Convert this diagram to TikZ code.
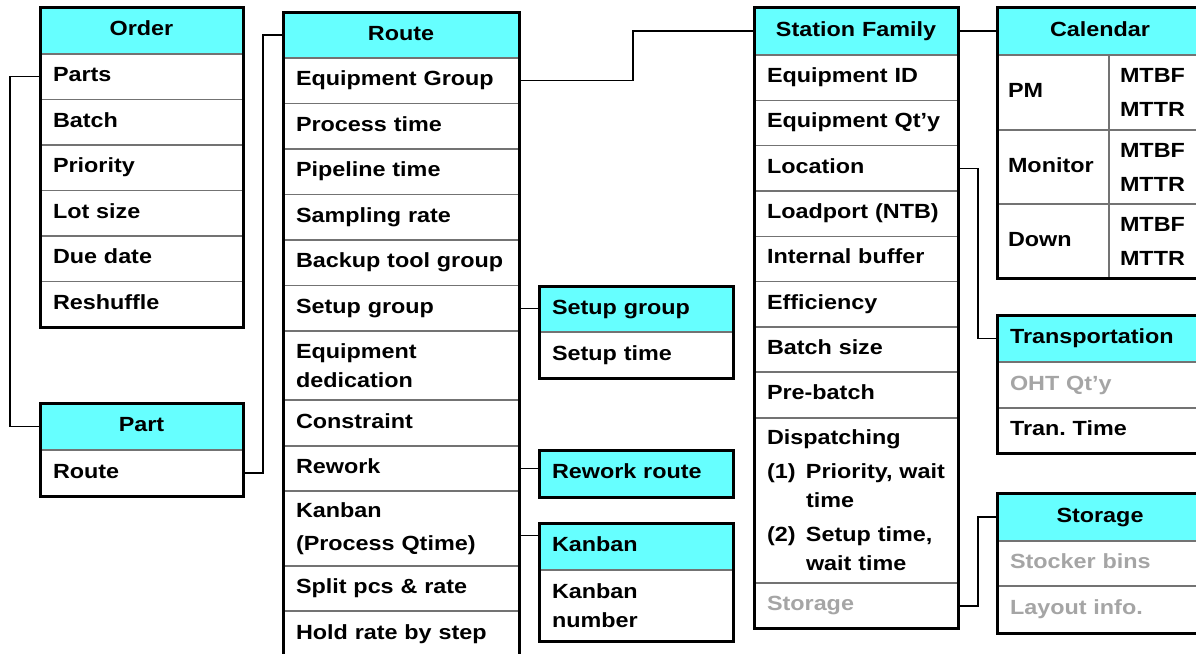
\documentclass[tikz,border=0pt]{standalone}
\usepackage{fontspec}
\newfontfamily\tblfont{Liberation Sans}[FakeStretch=1.14]
\definecolor{headcyan}{RGB}{102,255,255}
\definecolor{rowline}{RGB}{115,115,115}
\definecolor{dimtext}{RGB}{165,165,165}
\tikzset{
  cell/.style={draw=rowline, line width=1.1pt, rectangle, anchor=north west,
    inner xsep=13pt, inner ysep=0pt, outer sep=0pt, align=left,
    font=\tblfont\bfseries\frenchspacing\fontsize{20.5}{29}\selectfont},
  one/.style={text height=15pt, text depth=5pt},
  hd/.style={fill=headcyan},
  dim/.style={text=dimtext},
  ocell/.style={cell, one, text width=177pt, minimum height=45.5pt},
  rcell/.style={cell, one, text width=210pt, minimum height=45.5pt},
  bcell/.style={cell, one, text width=168pt, minimum height=46pt},
  scell/.style={cell, one, text width=178pt, minimum height=45.33pt},
  ccell/.style={cell, one, text width=180pt, minimum height=46pt},
  frame/.style={draw=black, line width=3pt},
  link/.style={draw=black, line width=1.2pt}
}
\begin{document}
\begin{tikzpicture}[x=1pt, y=-1pt]
\useasboundingbox (0,0) rectangle (1196,653);
\clip (0,0) rectangle (1196,653);
\fill[white] (0,0) rectangle (1196,653);

% ---- Order ----
\node[ocell, hd, align=center, minimum height=47pt] (ordh) at (40,7) {Order};
\node[ocell] (ord1) at (ordh.south west) {Parts};
\node[ocell] (ord2) at (ord1.south west) {Batch};
\node[ocell] (ord3) at (ord2.south west) {Priority};
\node[ocell] (ord4) at (ord3.south west) {Lot size};
\node[ocell] (ord5) at (ord4.south west) {Due date};
\node[ocell] (ord6) at (ord5.south west) {Reshuffle};
\draw[frame] (ordh.north west) rectangle (ord6.south east);

% ---- Part ----
\node[ocell, hd, align=center, minimum height=47pt] (parth) at (40,403) {Part};
\node[ocell, minimum height=46pt] (part1) at (parth.south west) {Route};
\draw[frame] (parth.north west) rectangle (part1.south east);

% ---- Route ----
\node[rcell, hd, align=center, minimum height=46pt] (routeh) at (283,12) {Route};
\node[rcell] (r1) at (routeh.south west) {Equipment Group};
\node[rcell] (r2) at (r1.south west) {Process time};
\node[rcell] (r3) at (r2.south west) {Pipeline time};
\node[rcell] (r4) at (r3.south west) {Sampling rate};
\node[rcell] (r5) at (r4.south west) {Backup tool group};
\node[rcell] (r6) at (r5.south west) {Setup group};
\node[cell, text width=210pt, minimum height=69pt] (r7) at (r6.south west) {Equipment\\dedication};
\node[rcell, minimum height=46pt] (r8) at (r7.south west) {Constraint};
\node[rcell, minimum height=45pt] (r9) at (r8.south west) {Rework};
\node[cell, text width=210pt, minimum height=75pt] (r10) at (r9.south west) {Kanban\\[4pt](Process Qtime)};
\node[rcell, minimum height=45pt] (r11) at (r10.south west) {Split pcs \& rate};
\node[rcell, minimum height=46pt] (r12) at (r11.south west) {Hold rate by step};
\draw[frame] (routeh.north west) rectangle (r12.south east);

% ---- Setup group ----
\node[bcell, hd] (setuph) at (539,286) {Setup group};
\node[bcell] (setup1) at (setuph.south west) {Setup time};
\draw[frame] (setuph.north west) rectangle (setup1.south east);

% ---- Rework route ----
\node[bcell, hd, minimum height=47pt] (rwh) at (539,450) {Rework route};
\draw[frame] (rwh.north west) rectangle (rwh.south east);

% ---- Kanban ----
\node[bcell, hd, minimum height=47pt] (kbh) at (539,523) {Kanban};
\node[cell, text width=168pt, minimum height=71pt] (kb1) at (kbh.south west) {Kanban\\number};
\draw[frame] (kbh.north west) rectangle (kb1.south east);

% ---- Station Family ----
\node[scell, hd, align=center, minimum height=48pt] (sfh) at (754,7) {Station Family};
\node[scell] (s1) at (sfh.south west) {Equipment ID};
\node[scell] (s2) at (s1.south west) {Equipment Qt’y};
\node[scell] (s3) at (s2.south west) {Location};
\node[scell] (s4) at (s3.south west) {Loadport (NTB)};
\node[scell] (s5) at (s4.south west) {Internal buffer};
\node[scell] (s6) at (s5.south west) {Efficiency};
\node[scell, minimum height=45pt] (s7) at (s6.south west) {Batch size};
\node[scell, minimum height=46pt] (s8) at (s7.south west) {Pre-batch};
\node[cell, text width=178pt, minimum height=165pt] (s9) at (s8.south west)
  {\mbox{Dispatching}\\[5pt]
   \mbox{\makebox[39pt][l]{(1)}Priority, wait}\\
   \mbox{\hspace*{39pt}time}\\[5pt]
   \mbox{\makebox[39pt][l]{(2)}Setup time,}\\
   \mbox{\hspace*{39pt}wait time}};
\node[scell, dim, minimum height=46pt] (s10) at (s9.south west) {Storage};
\draw[frame] (sfh.north west) rectangle (s10.south east);

% ---- Calendar ----
\node[ccell, hd, align=center, minimum height=48pt] (calh) at (997,7) {Calendar};
\node[cell, one, inner xsep=11pt, text width=90pt, minimum height=75pt] (cal1) at (calh.south west) {PM};
\node[cell, inner xsep=11pt, text width=72pt, minimum height=75pt] (cal1v) at (cal1.north east) {MTBF\\[5pt]MTTR};
\node[cell, one, inner xsep=11pt, text width=90pt, minimum height=74pt] (cal2) at (cal1.south west) {Monitor};
\node[cell, inner xsep=11pt, text width=72pt, minimum height=74pt] (cal2v) at (cal2.north east) {MTBF\\[5pt]MTTR};
\node[cell, one, inner xsep=11pt, text width=90pt, minimum height=74pt] (cal3) at (cal2.south west) {Down};
\node[cell, inner xsep=11pt, text width=72pt, minimum height=74pt] (cal3v) at (cal3.north east) {MTBF\\[5pt]MTTR};
\draw[frame] (calh.north west) rectangle (cal3v.south east);

% ---- Transportation ----
\node[ccell, hd, minimum height=47pt] (trh) at (997,315) {Transportation};
\node[ccell, dim] (tr1) at (trh.south west) {OHT Qt’y};
\node[ccell, minimum height=45pt] (tr2) at (tr1.south west) {Tran. Time};
\draw[frame] (trh.north west) rectangle (tr2.south east);

% ---- Storage ----
\node[ccell, hd, align=center, minimum height=48pt] (sth) at (997,493) {Storage};
\node[ccell, dim, minimum height=45pt] (st1) at (sth.south west) {Stocker bins};
\node[ccell, dim, minimum height=47pt] (st2) at (st1.south west) {Layout info.};
\draw[frame] (sth.north west) rectangle (st2.south east);

% ---- Links between tables ----
\draw[link] (ord1.west) -- ++(-30,0) |- (parth.west);
\draw[link] (part1.east) -- ++(20,0) |- (routeh.west);
\draw[link] (r1.east) -- ++(114,0) |- (sfh.west);
\draw[link] (sfh.east) -- (calh.west);
\draw[link] (r6.east) -- (r6.east -| setuph.west);
\draw[link] (r9.east) -- (r9.east -| rwh.west);
\draw[link] ([yshift=-7pt]r10.east) -- ([yshift=-7pt]r10.east -| kbh.west);
\draw[link] (s3.east) -- ++(20,0) |- (trh.west);
\draw[link] (s10.east) -- ++(20,0) |- (sth.west);
\end{tikzpicture}
\end{document}
